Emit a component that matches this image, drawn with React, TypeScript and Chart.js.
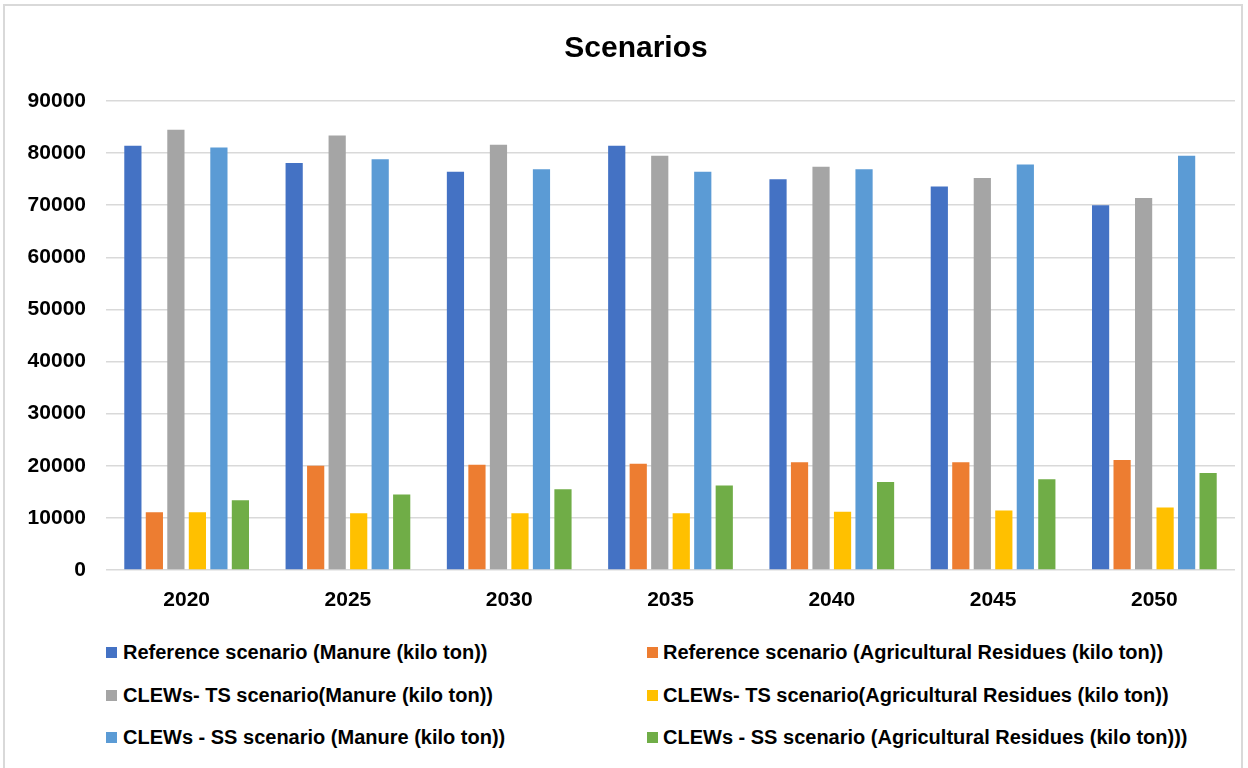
import React, { useEffect, useRef } from "react";
import { Chart, registerables } from "chart.js";

Chart.register(...registerables);

const years = ["2020", "2025", "2030", "2035", "2040", "2045", "2050"];
const refManure = [81400, 78100, 76400, 81400, 75000, 73600, 70000];
const refAgri = [11100, 20000, 20200, 20400, 20700, 20700, 21100];
const tsManure = [84500, 83400, 81600, 79500, 77400, 75200, 71400];
const tsAgri = [11100, 10900, 10900, 10900, 11200, 11400, 12000];
const ssManure = [81100, 78800, 76900, 76400, 76900, 77800, 79500];
const ssAgri = [13400, 14500, 15500, 16200, 16900, 17400, 18600];

const chartTitle = "Scenarios";
const seriesNames = [
  "Reference scenario (Manure (kilo ton))",
  "Reference scenario (Agricultural Residues (kilo ton))",
  "CLEWs- TS scenario(Manure (kilo ton))",
  "CLEWs- TS scenario(Agricultural Residues (kilo ton))",
  "CLEWs - SS scenario (Manure (kilo ton))",
  "CLEWs - SS scenario (Agricultural Residues (kilo ton)))",
];
const seriesColors = ["#4472C4", "#ED7D31", "#A5A5A5", "#FFC000", "#5B9BD5", "#70AD47"];
const seriesData = [refManure, refAgri, tsManure, tsAgri, ssManure, ssAgri];

const FONT = "'Liberation Sans', Arial, sans-serif";

export default function App() {
  const canvasRef = useRef<HTMLCanvasElement | null>(null);

  useEffect(() => {
    if (!canvasRef.current) return;
    const chart = new Chart(canvasRef.current, {
      type: "bar",
      data: {
        labels: years,
        datasets: seriesData.map((d, i) => ({
          label: seriesNames[i],
          data: d,
          backgroundColor: seriesColors[i],
          borderWidth: 0,
          categoryPercentage: 0.8,
          barPercentage: 0.8,
        })),
      },
      options: {
        animation: false,
        responsive: false,
        maintainAspectRatio: false,
        layout: { padding: { left: 0, right: 13, top: 101, bottom: 0 } },
        plugins: {
          legend: { display: false },
          tooltip: { enabled: false },
          title: { display: false },
        },
        scales: {
          x: {
            grid: { display: false, drawTicks: false },
            border: { display: false },
            ticks: {
              color: "#000",
              font: { family: FONT, size: 21, weight: "bold" },
              padding: 18,
            },
            afterFit: (scale: any) => {
              scale.height = 50;
            },
          },
          y: {
            min: 0,
            max: 90000,
            grid: { color: "#d9d9d9", lineWidth: 1.5, drawTicks: false },
            border: { display: false },
            ticks: {
              stepSize: 10000,
              color: "#000",
              font: { family: FONT, size: 21, weight: "bold" },
              padding: 20,
              callback: (v: any) => String(v),
            },
            afterFit: (scale: any) => {
              scale.width = 106;
            },
          },
        },
      },
    });
    return () => chart.destroy();
  }, []);

  const rowsY = [652, 695, 737];
  const colSwatchX = [106, 647];
  const colTextX = [123, 663];

  return (
    <div style={{ position: "absolute", left: 0, top: 0, width: 1248, height: 768, background: "#fff", overflow: "hidden" }}>
      <div
        style={{
          position: "absolute",
          left: 3,
          top: 4,
          width: 1240,
          height: 770,
          border: "2px solid #d9d9d9",
          boxSizing: "border-box",
        }}
      />
      <canvas
        ref={canvasRef}
        width={1248}
        height={620}
        style={{ position: "absolute", left: 0, top: 0, width: 1248, height: 620 }}
      />
      <div
        style={{
          position: "absolute",
          left: 436,
          top: 29,
          width: 400,
          height: 36,
          lineHeight: "36px",
          textAlign: "center",
          fontFamily: FONT,
          fontWeight: "bold",
          fontSize: 30,
          color: "#000",
          whiteSpace: "nowrap",
        }}
      >
        {chartTitle}
      </div>
      {seriesNames.map((name, i) => {
        const row = Math.floor(i / 2);
        const col = i % 2;
        const cy = rowsY[row];
        return (
          <React.Fragment key={name}>
            <div
              style={{
                position: "absolute",
                left: colSwatchX[col],
                top: cy - 5.5,
                width: 11,
                height: 11,
                background: seriesColors[i],
              }}
            />
            <div
              style={{
                position: "absolute",
                left: colTextX[col],
                top: cy - 13,
                height: 26,
                lineHeight: "26px",
                fontFamily: FONT,
                fontWeight: "bold",
                fontSize: 20,
                color: "#000",
                whiteSpace: "nowrap",
              }}
            >
              {name}
            </div>
          </React.Fragment>
        );
      })}
    </div>
  );
}
